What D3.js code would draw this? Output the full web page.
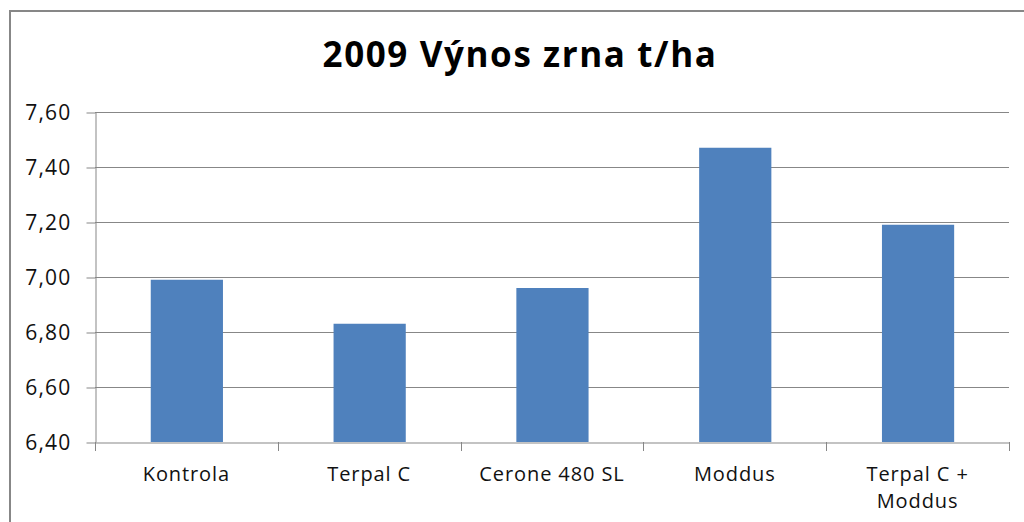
<!DOCTYPE html>
<html>
<head>
<meta charset="utf-8">
<script src="https://cdn.jsdelivr.net/npm/d3@7"></script>
<style>
  body { margin: 0; background: #fff; }
  svg { display: block; font-family: "Open Sans", "Liberation Sans", sans-serif; }
</style>
</head>
<body>
<div id="root"></div>
<script>
const categories = ["Kontrola", "Terpal C", "Cerone 480 SL", "Moddus", "Terpal C + Moddus"];
const values = [6.99, 6.83, 6.96, 7.47, 7.19];
const yTicks = [6.4, 6.6, 6.8, 7.0, 7.2, 7.4, 7.6];
const title = "2009 Výnos zrna t/ha";

const width = 1024;
const height = 522;
const margin = { left: 95, right: 15, top: 112, bottom: 80 };

const svg = d3.select("#root")
  .append("svg")
  .attr("width", width)
  .attr("height", height);

// chart frame (runs off the right and bottom edge)
svg.append("rect")
  .attr("x", 10)
  .attr("y", 11)
  .attr("width", 1030)
  .attr("height", 530)
  .attr("fill", "none")
  .attr("stroke", "#878787")
  .attr("stroke-width", 2);

svg.append("text")
  .attr("x", 520)
  .attr("y", 67)
  .attr("text-anchor", "middle")
  .attr("font-size", 35)
  .attr("letter-spacing", 1.6)
  .attr("font-weight", "bold")
  .attr("fill", "#000")
  .text(title);

const x = d3.scaleBand()
  .domain(categories)
  .range([margin.left, width - margin.right])
  .paddingInner(0)
  .paddingOuter(0);

const y = d3.scaleLinear()
  .domain([6.4, 7.6])
  .range([height - margin.bottom, margin.top]);

const fmt = d => d3.format(".2f")(d).replace(".", ",");

// gridlines
svg.append("g")
  .selectAll("line")
  .data(yTicks.slice(1))
  .join("line")
    .attr("x1", margin.left)
    .attr("x2", width - margin.right)
    .attr("y1", d => Math.round(y(d)) + 0.5)
    .attr("y2", d => Math.round(y(d)) + 0.5)
    .attr("stroke", "#878787");

// bars
svg.append("g")
  .selectAll("rect")
  .data(values)
  .join("rect")
    .attr("x", (d, i) => x(categories[i]) + x.bandwidth() * 0.305)
    .attr("y", d => y(d))
    .attr("width", x.bandwidth() * 0.395)
    .attr("height", d => y(6.4) - y(d))
    .attr("fill", "#4F81BD");

// y axis
const yAxis = svg.append("g")
  .attr("transform", `translate(${margin.left + 0.5},0)`)
  .call(d3.axisLeft(y).tickValues(yTicks).tickFormat(fmt).tickSize(9).tickSizeOuter(0));
yAxis.select(".domain").attr("stroke", "#878787");
yAxis.selectAll(".tick line").attr("stroke", "#878787")
  .attr("transform", "translate(0,0.5)");
yAxis.selectAll(".tick text")
  .attr("font-size", 21)
  .attr("letter-spacing", 1.2)
  .attr("font-family", "Open Sans, Liberation Sans, sans-serif")
  .attr("fill", "#111")
  .attr("x", -24)
  .attr("dy", "0.35em");

// x axis
const xAxis = svg.append("g")
  .attr("transform", `translate(0,${Math.round(y(6.4)) + 0.5})`)
  .call(d3.axisBottom(x).tickSize(0).tickSizeOuter(0));
xAxis.select(".domain").attr("stroke", "#878787");
xAxis.selectAll(".tick text").remove();

// category separator ticks
svg.append("g")
  .selectAll("line")
  .data(categories.concat([null]))
  .join("line")
    .attr("x1", (d, i) => Math.round(margin.left + i * x.step()) + 0.5)
    .attr("x2", (d, i) => Math.round(margin.left + i * x.step()) + 0.5)
    .attr("y1", Math.round(y(6.4)))
    .attr("y2", Math.round(y(6.4)) + 9)
    .attr("stroke", "#878787");

// category labels (wrapped like the original)
const lines = [["Kontrola"], ["Terpal C"], ["Cerone 480 SL"], ["Moddus"], ["Terpal C +", "Moddus"]];
svg.append("g")
  .selectAll("text")
  .data(categories)
  .join("text")
    .attr("x", d => x(d) + x.bandwidth() / 2)
    .attr("y", 481)
    .attr("text-anchor", "middle")
    .attr("font-size", 20)
    .attr("letter-spacing", 0.9)
    .attr("fill", "#111")
    .each(function (d, i) {
      d3.select(this).selectAll("tspan")
        .data(lines[i])
        .join("tspan")
          .attr("x", x(d) + x.bandwidth() / 2)
          .attr("dy", (t, j) => j === 0 ? 0 : 27)
          .text(t => t);
    });
</script>
</body>
</html>
